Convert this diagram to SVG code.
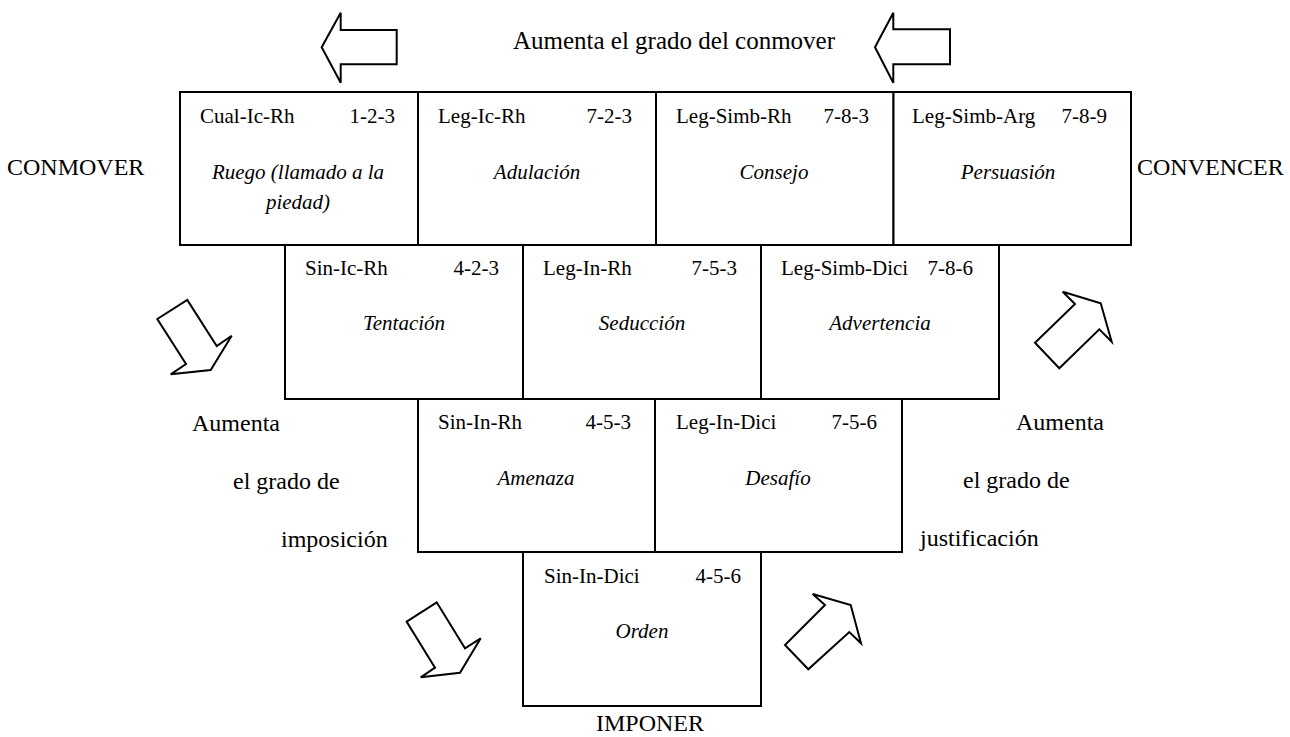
<svg xmlns="http://www.w3.org/2000/svg" width="1290" height="737" viewBox="0 0 1290 737">
<style>
  .box { fill: #fff; stroke: #000; stroke-width: 2; }
  .arr { fill: #fff; stroke: #000; stroke-width: 2; stroke-linejoin: miter; }
  text { font-family: 'Liberation Serif', 'DejaVu Serif', serif; fill: #000; }
  .t { font-size: 21px; }
  .i { font-size: 21px; font-style: italic; text-anchor: middle; }
  .n { text-anchor: end; }
  .L { font-size: 24px; }
  .T { font-size: 25px; text-anchor: middle; }
</style>
<rect width="1290" height="737" fill="#fff"/>

<g id="n-ruego">
  <rect class="box" x="180" y="92" width="238" height="153"/>
  <text class="t" x="200" y="123">Cual-Ic-Rh</text>
  <text class="t n" x="395" y="123">1-2-3</text>
  <text class="i" x="298" y="179">Ruego (llamado a la</text>
  <text class="i" x="298" y="209">piedad)</text>
</g>
<g id="n-adulacion">
  <rect class="box" x="418" y="92" width="238" height="153"/>
  <text class="t" x="438" y="123">Leg-Ic-Rh</text>
  <text class="t n" x="632" y="123">7-2-3</text>
  <text class="i" x="537" y="179">Adulación</text>
</g>
<g id="n-consejo">
  <rect class="box" x="656" y="92" width="237.5" height="153"/>
  <text class="t" x="676" y="123">Leg-Simb-Rh</text>
  <text class="t n" x="869" y="123">7-8-3</text>
  <text class="i" x="774" y="179">Consejo</text>
</g>
<g id="n-persuasion">
  <rect class="box" x="893.5" y="92" width="237.5" height="153"/>
  <text class="t" x="912" y="123">Leg-Simb-Arg</text>
  <text class="t n" x="1107" y="123">7-8-9</text>
  <text class="i" x="1008" y="179">Persuasión</text>
</g>

<g id="n-tentacion">
  <rect class="box" x="285" y="245" width="238" height="154"/>
  <text class="t" x="305" y="275">Sin-Ic-Rh</text>
  <text class="t n" x="499" y="275">4-2-3</text>
  <text class="i" x="404" y="330">Tentación</text>
</g>
<g id="n-seduccion">
  <rect class="box" x="523" y="245" width="238" height="154"/>
  <text class="t" x="543" y="275">Leg-In-Rh</text>
  <text class="t n" x="737" y="275">7-5-3</text>
  <text class="i" x="642" y="330">Seducción</text>
</g>
<g id="n-advertencia">
  <rect class="box" x="761" y="245" width="238" height="154"/>
  <text class="t" x="781" y="275">Leg-Simb-Dici</text>
  <text class="t n" x="973" y="275">7-8-6</text>
  <text class="i" x="880" y="330">Advertencia</text>
</g>

<g id="n-amenaza">
  <rect class="box" x="418" y="399" width="237" height="153"/>
  <text class="t" x="438" y="429">Sin-In-Rh</text>
  <text class="t n" x="631" y="429">4-5-3</text>
  <text class="i" x="536" y="485">Amenaza</text>
</g>
<g id="n-desafio">
  <rect class="box" x="655" y="399" width="247" height="153"/>
  <text class="t" x="676" y="429">Leg-In-Dici</text>
  <text class="t n" x="877" y="429">7-5-6</text>
  <text class="i" x="778" y="485">Desafío</text>
</g>

<g id="n-orden">
  <rect class="box" x="523" y="552" width="238" height="154"/>
  <text class="t" x="544" y="583">Sin-In-Dici</text>
  <text class="t n" x="741" y="583">4-5-6</text>
  <text class="i" x="642" y="638">Orden</text>
</g>

<g id="labels">
  <text class="T" x="674" y="49">Aumenta el grado del conmover</text>
  <text class="L" x="7" y="175">CONMOVER</text>
  <text class="L" x="1137" y="175">CONVENCER</text>
  <text class="L" x="650" y="731" text-anchor="middle">IMPONER</text>
  <text class="L" x="192" y="431">Aumenta</text>
  <text class="L" x="233" y="489">el grado de</text>
  <text class="L" x="281" y="547">imposición</text>
  <text class="L" x="1016" y="430">Aumenta</text>
  <text class="L" x="963" y="488">el grado de</text>
  <text class="L" x="920" y="546">justificación</text>
</g>

<g id="connectors">
  <polygon class="arr" points="321.7,47.3 340.7,12.7 340.7,30 396.7,30 396.7,64.3 340.7,64.3 340.7,82.7"/>
  <polygon class="arr" points="875,47.3 893.3,12.7 893.3,29.3 950,29.3 950,64.3 893.3,64.3 893.3,82.7"/>
  <polygon class="arr" points="157.3,319 187.3,300 216.7,346 231.7,335.7 210.7,370 170.7,374.3 186,364"/>
  <polygon class="arr" points="1035,342.7 1075,304 1062.7,291.7 1100.7,303.3 1111.7,341.7 1099.3,329.3 1059.3,368.3"/>
  <polygon class="arr" points="406.7,621.7 436.7,602.3 465,648.3 480.7,638.3 460,672.7 420.7,677.3 435,667.7"/>
  <polygon class="arr" points="785,645 825,605 812.7,594 850.7,605 861,643.3 849.3,632 808.3,669.3"/>
</g>
</svg>
